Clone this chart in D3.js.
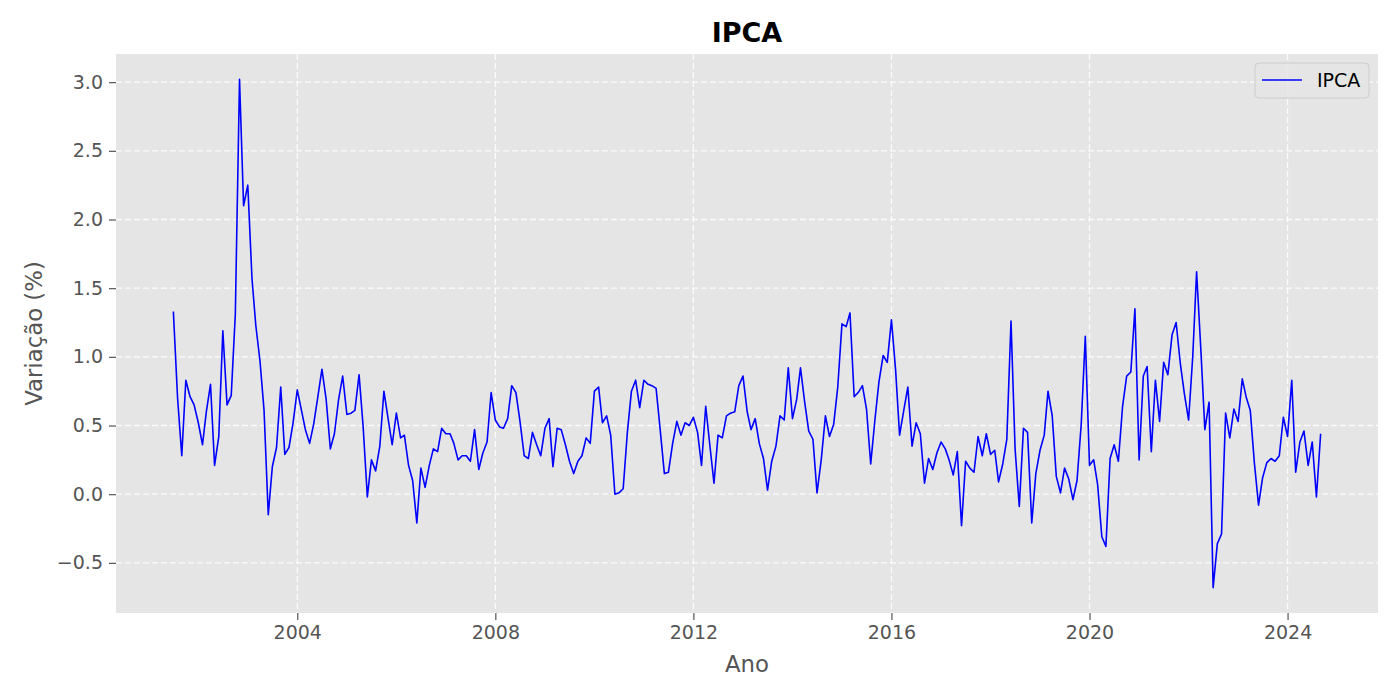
<!DOCTYPE html>
<html>
<head>
<meta charset="utf-8">
<script src="https://cdn.jsdelivr.net/npm/d3@7"></script>
<style>
  body { margin: 0; background: #fff; }
  text { font-family: "DejaVu Sans", sans-serif; }
</style>
</head>
<body>
<div id="viz"></div>
<script>
// monthly IPCA (%), first value is July 2001
var firstYear = 2001, firstMonth = 6;
var ipca = [
  1.33, 0.70, 0.28, 0.83, 0.71, 0.65,                               // 2001 (Jul-Dec)
  0.52, 0.36, 0.60, 0.80, 0.21, 0.42, 1.19, 0.65, 0.72, 1.31, 3.02, 2.10, // 2002
  2.25, 1.57, 1.23, 0.97, 0.61, -0.15, 0.20, 0.34, 0.78, 0.29, 0.34, 0.52, // 2003
  0.76, 0.61, 0.47, 0.37, 0.51, 0.71, 0.91, 0.69, 0.33, 0.44, 0.69, 0.86, // 2004
  0.58, 0.59, 0.61, 0.87, 0.49, -0.02, 0.25, 0.17, 0.35, 0.75, 0.55, 0.36, // 2005
  0.59, 0.41, 0.43, 0.21, 0.10, -0.21, 0.19, 0.05, 0.21, 0.33, 0.31, 0.48, // 2006
  0.44, 0.44, 0.37, 0.25, 0.28, 0.28, 0.24, 0.47, 0.18, 0.30, 0.38, 0.74, // 2007
  0.54, 0.49, 0.48, 0.55, 0.79, 0.74, 0.53, 0.28, 0.26, 0.45, 0.36, 0.28, // 2008
  0.48, 0.55, 0.20, 0.48, 0.47, 0.36, 0.24, 0.15, 0.24, 0.28, 0.41, 0.37, // 2009
  0.75, 0.78, 0.52, 0.57, 0.43, 0.00, 0.01, 0.04, 0.45, 0.75, 0.83, 0.63, // 2010
  0.83, 0.80, 0.79, 0.77, 0.47, 0.15, 0.16, 0.37, 0.53, 0.43, 0.52, 0.50, // 2011
  0.56, 0.45, 0.21, 0.64, 0.36, 0.08, 0.43, 0.41, 0.57, 0.59, 0.60, 0.79, // 2012
  0.86, 0.60, 0.47, 0.55, 0.37, 0.26, 0.03, 0.24, 0.35, 0.57, 0.54, 0.92, // 2013
  0.55, 0.69, 0.92, 0.67, 0.46, 0.40, 0.01, 0.25, 0.57, 0.42, 0.51, 0.78, // 2014
  1.24, 1.22, 1.32, 0.71, 0.74, 0.79, 0.62, 0.22, 0.54, 0.82, 1.01, 0.96, // 2015
  1.27, 0.90, 0.43, 0.61, 0.78, 0.35, 0.52, 0.44, 0.08, 0.26, 0.18, 0.30, // 2016
  0.38, 0.33, 0.25, 0.14, 0.31, -0.23, 0.24, 0.19, 0.16, 0.42, 0.28, 0.44, // 2017
  0.29, 0.32, 0.09, 0.22, 0.40, 1.26, 0.33, -0.09, 0.48, 0.45, -0.21, 0.15, // 2018
  0.32, 0.43, 0.75, 0.57, 0.13, 0.01, 0.19, 0.11, -0.04, 0.10, 0.51, 1.15, // 2019
  0.21, 0.25, 0.07, -0.31, -0.38, 0.26, 0.36, 0.24, 0.64, 0.86, 0.89, 1.35, // 2020
  0.25, 0.86, 0.93, 0.31, 0.83, 0.53, 0.96, 0.87, 1.16, 1.25, 0.95, 0.73, // 2021
  0.54, 1.01, 1.62, 1.06, 0.47, 0.67, -0.68, -0.36, -0.29, 0.59, 0.41, 0.62, // 2022
  0.53, 0.84, 0.71, 0.61, 0.23, -0.08, 0.12, 0.23, 0.26, 0.24, 0.28, 0.56, // 2023
  0.42, 0.83, 0.16, 0.38, 0.46, 0.21, 0.38, -0.02, 0.44              // 2024 (Jan-Sep)
];
var yearTicks = [2004, 2008, 2012, 2016, 2020, 2024];
var yTicks = [-0.5, 0, 0.5, 1.0, 1.5, 2.0, 2.5, 3.0];
var chartTitle = 'IPCA';
var xLabel = 'Ano';
var yLabel = 'Variação (%)';
var seriesName = 'IPCA';

var width = 1400;
var height = 700;
var margin = {top: 54, right: 22, bottom: 87, left: 116};
var innerW = width - margin.left - margin.right;
var innerH = height - margin.top - margin.bottom;

var points = ipca.map(function(v, i) {
  return {date: new Date(Date.UTC(firstYear, firstMonth + i, 1)), value: v};
});

// matplotlib style 5% margins on both axes
var t0 = points[0].date.getTime(), t1 = points[points.length - 1].date.getTime();
var tPad = (t1 - t0) * 0.05;
var xScale = d3.scaleUtc()
  .domain([new Date(t0 - tPad), new Date(t1 + tPad)])
  .range([0, innerW]);

var vMin = d3.min(ipca), vMax = d3.max(ipca);
var vPad = (vMax - vMin) * 0.05;
var yScale = d3.scaleLinear()
  .domain([vMin - vPad, vMax + vPad])
  .range([innerH, 0]);

var tickDates = yearTicks.map(function(y) { return new Date(Date.UTC(y, 0, 1)); });
var fmtY = function(d) { return d3.format('.1f')(d).replace('-', '\u2212'); };

var svg = d3.select('#viz')
  .append('svg')
  .attr('width', width)
  .attr('height', height)
  .style('background', '#fff');

var g = svg.append('g')
  .attr('transform', `translate(${margin.left},${margin.top})`);

g.append('rect')
  .attr('width', innerW)
  .attr('height', innerH)
  .attr('fill', '#E5E5E5');

// grid
g.append('g').selectAll('line').data(yTicks)
  .enter().append('line')
  .attr('x1', 0).attr('x2', innerW)
  .attr('y1', function(d) { return yScale(d); })
  .attr('y2', function(d) { return yScale(d); })
  .attr('stroke', '#fff').attr('stroke-opacity', 0.85)
  .attr('stroke-width', 1.3).attr('stroke-dasharray', '6,3');

g.append('g').selectAll('line').data(tickDates)
  .enter().append('line')
  .attr('y1', 0).attr('y2', innerH)
  .attr('x1', function(d) { return xScale(d); })
  .attr('x2', function(d) { return xScale(d); })
  .attr('stroke', '#fff').attr('stroke-opacity', 0.85)
  .attr('stroke-width', 1.3).attr('stroke-dasharray', '6,3');

// axes
var yAxis = d3.axisLeft(yScale).tickValues(yTicks).tickFormat(fmtY).tickSize(7).tickPadding(6);
var xAxis = d3.axisBottom(xScale).tickValues(tickDates).tickFormat(d3.utcFormat('%Y')).tickSize(7).tickPadding(6);

var yGuide = g.append('g').call(yAxis);
var xGuide = g.append('g').attr('transform', `translate(0,${innerH})`).call(xAxis);

[yGuide, xGuide].forEach(function(ax) {
  ax.select('.domain').remove();
  ax.selectAll('.tick line').attr('stroke', '#555555').attr('stroke-width', 1.2);
  ax.selectAll('.tick text')
    .attr('fill', '#555555')
    .style('font-size', '19px')
    .style('font-family', '"DejaVu Sans", sans-serif');
});

// series
var line = d3.line()
  .x(function(d) { return xScale(d.date); })
  .y(function(d) { return yScale(d.value); });

g.append('path')
  .datum(points)
  .attr('d', line)
  .attr('fill', 'none')
  .attr('stroke', '#0000FF')
  .attr('stroke-width', 1.6)
  .attr('stroke-linejoin', 'round');

// legend
var lg = g.append('g').attr('transform', `translate(${innerW - 123},9)`);
lg.append('rect')
  .attr('width', 114).attr('height', 35).attr('rx', 4)
  .attr('fill', '#E5E5E5').attr('fill-opacity', 0.8)
  .attr('stroke', '#CCCCCC').attr('stroke-width', 1);
lg.append('line')
  .attr('x1', 7).attr('x2', 47).attr('y1', 17).attr('y2', 17)
  .attr('stroke', '#0000FF').attr('stroke-width', 1.6);
lg.append('text')
  .attr('x', 62).attr('y', 24)
  .attr('fill', '#000')
  .style('font-size', '19px')
  .text(seriesName);

// labels
svg.append('text')
  .attr('x', margin.left + innerW / 2).attr('y', 42)
  .attr('text-anchor', 'middle')
  .style('font-size', '27px').style('font-weight', 'bold')
  .attr('fill', '#000')
  .text(chartTitle);

svg.append('text')
  .attr('x', margin.left + innerW / 2).attr('y', 672)
  .attr('text-anchor', 'middle')
  .style('font-size', '22.8px')
  .attr('fill', '#555555')
  .text(xLabel);

svg.append('text')
  .attr('transform', `translate(42,${margin.top + innerH / 2}) rotate(-90)`)
  .attr('text-anchor', 'middle')
  .style('font-size', '22.8px')
  .attr('fill', '#555555')
  .text(yLabel);
</script>
</body>
</html>
